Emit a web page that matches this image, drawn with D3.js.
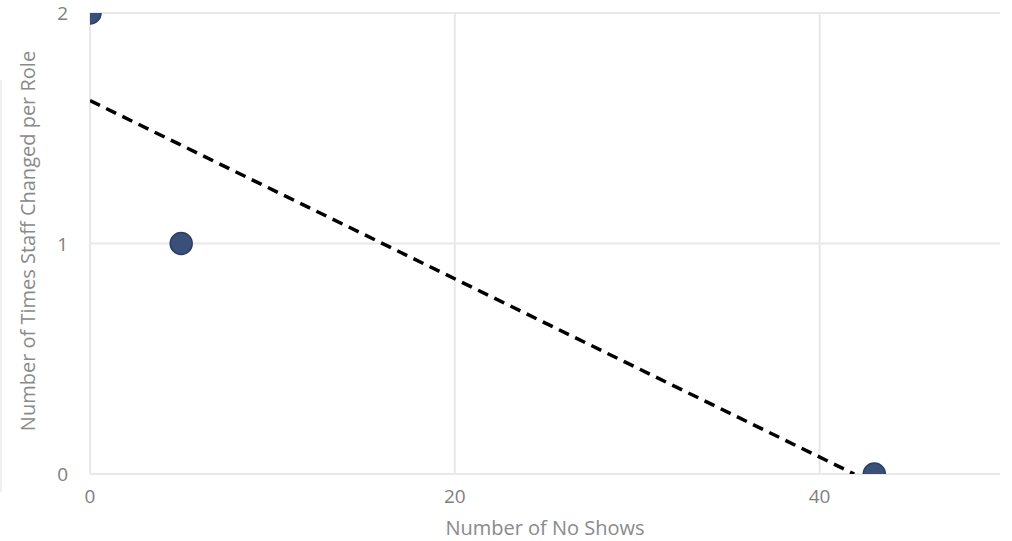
<!DOCTYPE html>
<html><head><meta charset="utf-8">
<script src="https://cdn.jsdelivr.net/npm/d3@7"></script>
<style>
body{margin:0;background:#fff;}
svg{display:block;font-family:"Segoe UI","Open Sans","Noto Sans",sans-serif;}
</style></head>
<body><svg id="c" width="1012" height="541"></svg>
<script>
const noShows = [0, 5, 43];
const staffChanges = [2, 1, 0];
const trendX = [0, 41.9];
const trendY = [1.62, 0];
const xTicks = [0, 20, 40];
const yTicks = [0, 1, 2];
const xTitle = "Number of No Shows";
const yTitle = "Number of Times Staff Changed per Role";

const svg = d3.select("#c");
const L = 90, R = 1002, T = 13, B = 474;
const x = d3.scaleLinear().domain([0, 50]).range([L, R]);
const y = d3.scaleLinear().domain([0, 2]).range([B, T]);

// container border line
svg.append("line").attr("x1",1).attr("x2",1).attr("y1",80).attr("y2",492)
  .attr("stroke","#ebebeb").attr("stroke-width",1.5);

svg.append("defs").append("clipPath").attr("id","clip")
  .append("rect").attr("x",L).attr("y",T).attr("width",R-L).attr("height",B-T);

// gridlines
svg.append("g").selectAll("line").data(xTicks).join("line")
  .attr("x1",d=>x(d)).attr("x2",d=>x(d)).attr("y1",T).attr("y2",B)
  .attr("stroke","#e8e8e8").attr("stroke-width",2);
svg.append("g").selectAll("line").data(yTicks).join("line")
  .attr("x1",L).attr("x2",1000).attr("y1",d=>y(d)).attr("y2",d=>y(d))
  .attr("stroke","#e8e8e8").attr("stroke-width",2);

// tick labels
svg.append("g").selectAll("text").data(xTicks).join("text")
  .attr("x",d=>x(d)).attr("y",503).attr("text-anchor","middle")
  .attr("font-size",19).attr("fill","#808080").text(d=>d);
svg.append("g").selectAll("text").data(yTicks).join("text")
  .attr("x",68).attr("y",d=>y(d)+7).attr("text-anchor","end")
  .attr("font-size",19).attr("fill","#808080").text(d=>d);

// axis titles
svg.append("text").attr("x",(L+1000)/2).attr("y",535).attr("text-anchor","middle")
  .attr("font-size",20).attr("fill","#8a8a8a").text(xTitle);
svg.append("text").attr("transform",`translate(35,241) rotate(-90)`)
  .attr("text-anchor","middle").attr("font-size",20).attr("fill","#8a8a8a").text(yTitle);

const plot = svg.append("g").attr("clip-path","url(#clip)");

// trend line
plot.append("line")
  .attr("x1",x(trendX[0])).attr("y1",y(trendY[0]))
  .attr("x2",x(trendX[1])).attr("y2",y(trendY[1]))
  .attr("stroke","#000").attr("stroke-width",3.5).attr("stroke-dasharray","11,7");

// points
plot.selectAll("circle").data(noShows.map((v,i)=>[v,staffChanges[i]])).join("circle")
  .attr("cx",d=>x(d[0])).attr("cy",d=>y(d[1])).attr("r",11)
  .attr("fill","#3b5078").attr("stroke","#2b3f66").attr("stroke-width",1.5);
</script></body></html>
